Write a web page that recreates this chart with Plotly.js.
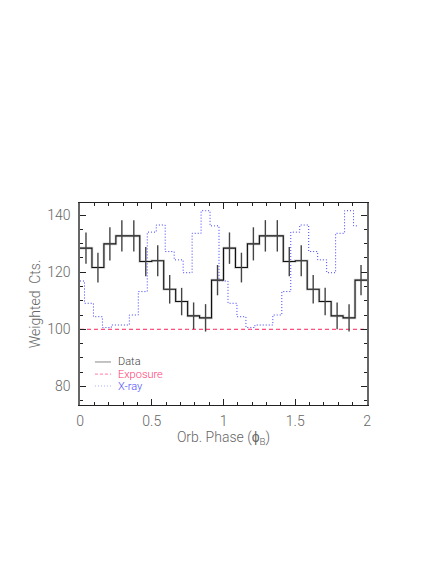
<!DOCTYPE html>
<html>
<head>
<meta charset="utf-8">
<script src="https://cdn.plot.ly/plotly-3.0.1.min.js"></script>
<style>
  html, body { margin: 0; padding: 0; background: #fff; }
  #plot { width: 443px; height: 573px; }
</style>
</head>
<body>
<div id="plot"></div>
<script>
// one orbital cycle, 12 phase bins (weighted counts)
var binCenters = [0.0417, 0.125, 0.2083, 0.2917, 0.375, 0.4583, 0.5417, 0.625, 0.7083, 0.7917, 0.875, 0.9583];
var counts = [128.4, 121.6, 129.9, 132.7, 132.7, 123.7, 124.0, 114.0, 109.7, 104.7, 104.0, 117.2];
var countErr = [5.5, 5.2, 5.8, 5.5, 5.5, 5.1, 5.4, 5.0, 4.8, 4.7, 4.8, 5.3];

// X-ray template and exposure, 16 phase points per cycle
var xrayPhase = [0, 0.0625, 0.125, 0.1875, 0.25, 0.3125, 0.375, 0.4375, 0.5, 0.5625, 0.625, 0.6875, 0.75, 0.8125, 0.875, 0.9375];
var xray = [116.9, 109.1, 104.4, 100.6, 101.5, 101.5, 105.0, 113.2, 134.0, 136.5, 127.2, 124.3, 119.8, 133.6, 141.5, 136.2];
var exposure = [100, 100, 100, 100, 100, 100, 100, 100, 100, 100, 100, 100, 100, 100, 100, 100];

var binWidth = 1 / 12;

// plot two cycles
var cx = [], cy = [], ce = [], ex = [], ey = [];
for (var c = 0; c < 2; c++) {
    for (var i = 0; i < binCenters.length; i++) {
        cx.push(binCenters[i] + c);
        cy.push(counts[i]);
        ce.push(countErr[i]);
        ex.push(binCenters[i] - binWidth / 2 + c);
        ey.push(counts[i]);
    }
}
ex.push(2);
ey.push(counts[counts.length - 1]);

var xx = [], xy = [], px = [], py = [];
for (var c = 0; c < 2; c++) {
    for (var k = 0; k < xrayPhase.length; k++) {
        xx.push(xrayPhase[k] + c);
        xy.push(xray[k]);
        px.push(xrayPhase[k] + c);
        py.push(exposure[k]);
    }
}
px.push(2);
py.push(exposure[0]);

var fontFam = 'Roboto, Liberation Sans, Arial, sans-serif';
var axFont = { family: fontFam, size: 14, weight: 300, color: '#666' };

var traces = [
    { x: xx, y: xy, type: 'scatter', mode: 'lines', line: { shape: 'hvh', color: '#3c3cff', width: 1, dash: '1px,2px' }, hoverinfo: 'skip' },
    { x: px, y: py, type: 'scatter', mode: 'lines', line: { shape: 'hv', color: '#ff1f5a', width: 1, dash: '4px,3px' }, hoverinfo: 'skip' },
    { x: ex, y: ey, type: 'scatter', mode: 'lines', line: { shape: 'hv', color: '#d0d0d0', width: 2.6 }, hoverinfo: 'skip' },
    { x: ex, y: ey, type: 'scatter', mode: 'lines', line: { shape: 'hv', color: '#111', width: 1.1 } },
    { x: cx, y: cy, type: 'scatter', mode: 'markers', marker: { size: 1, color: 'rgba(0,0,0,0)' },
      error_y: { type: 'data', array: ce, visible: true, color: '#444', thickness: 1.4, width: 0 } }
];

// legend drawn by hand so the rows sit close together
var legRows = [
    { name: 'Data', color: '#444', line: { color: '#888', width: 1 }, y: 0.213 },
    { name: 'Exposure', color: '#ff3a72', line: { color: '#ff7aa2', width: 1, dash: '3px,2px' }, y: 0.153 },
    { name: 'X-ray', color: '#4b4bff', line: { color: '#a8a8ff', width: 1, dash: '1px,2px' }, y: 0.094 }
];
var shapes = [], annotations = [];
legRows.forEach(function (r) {
    shapes.push({ type: 'line', xref: 'paper', yref: 'paper', x0: 0.052, x1: 0.108, y0: r.y, y1: r.y, line: r.line });
    annotations.push({ xref: 'paper', yref: 'paper', x: 0.125, y: r.y, xanchor: 'left', yanchor: 'middle',
        text: r.name, showarrow: false, font: { family: fontFam, size: 11, weight: 300, color: r.color } });
});

var layout = {
    width: 443,
    height: 573,
    margin: { l: 80, r: 76, t: 203, b: 168 },
    paper_bgcolor: '#fff',
    plot_bgcolor: '#fff',
    showlegend: false,
    font: axFont,
    xaxis: {
        range: [0, 2],
        dtick: 0.5,
        tick0: 0,
        ticks: 'inside',
        ticklen: 6,
        tickcolor: '#222',
        tickfont: axFont,
        minor: { dtick: 0.1, ticks: 'inside', ticklen: 3, tickcolor: '#222' },
        showline: true,
        linecolor: '#222',
        linewidth: 1.3,
        mirror: 'ticks',
        showgrid: false,
        zeroline: false,
        ticklabelstandoff: 3,
        title: { text: 'Orb. Phase (\u03D5<sub>B</sub>)', standoff: 3, font: axFont }
    },
    yaxis: {
        range: [73.5, 144.2],
        dtick: 20,
        tick0: 0,
        ticks: 'inside',
        ticklen: 6,
        tickcolor: '#222',
        tickfont: axFont,
        minor: { dtick: 5, ticks: 'inside', ticklen: 3, tickcolor: '#222' },
        showline: true,
        linecolor: '#666',
        linewidth: 1.6,
        mirror: 'ticks',
        showgrid: false,
        zeroline: false,
        ticklabelstandoff: 5,
        title: { text: 'Weighted  Cts.', standoff: 3, font: axFont }
    },
    shapes: shapes,
    annotations: annotations
};

Plotly.newPlot('plot', traces, layout, { displayModeBar: false, staticPlot: true });
</script>
</body>
</html>
